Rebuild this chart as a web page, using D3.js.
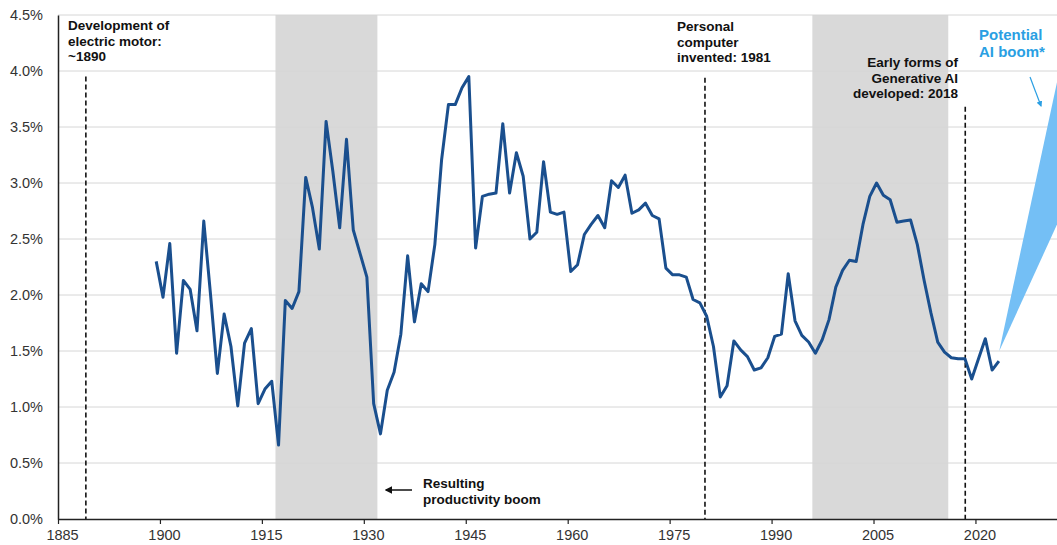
<!DOCTYPE html>
<html>
<head>
<meta charset="utf-8">
<script src="https://cdn.jsdelivr.net/npm/d3@7"></script>
<style>
  html, body { margin: 0; padding: 0; background: #fff; }
  svg { display: block; font-family: "Liberation Sans", Arial, sans-serif; }
</style>
</head>
<body>
<div id="chart"></div>
<script>
// annual labour productivity growth (%)
const years = d3.range(1899, 2024);
const growth = [
  2.30, 1.98, 2.46, 1.48, 2.13, 2.05, 1.68, 2.66, 2.00, 1.30,
  1.83, 1.54, 1.01, 1.57, 1.70, 1.03, 1.16, 1.23, 0.66, 1.95,
  1.88, 2.03, 3.05, 2.78, 2.41, 3.55, 3.10, 2.60, 3.39, 2.58,
  2.37, 2.16, 1.03, 0.76, 1.15, 1.31, 1.65, 2.35, 1.76, 2.10,
  2.03, 2.45, 3.21, 3.70, 3.70, 3.85, 3.95, 2.42, 2.88, 2.90,
  2.91, 3.53, 2.91, 3.27, 3.06, 2.50, 2.56, 3.19, 2.74, 2.72,
  2.74, 2.21, 2.27, 2.54, 2.63, 2.71, 2.60, 3.02, 2.96, 3.07,
  2.73, 2.76, 2.82, 2.71, 2.68, 2.24, 2.18, 2.18, 2.16, 1.96,
  1.93, 1.81, 1.54, 1.09, 1.19, 1.59, 1.51, 1.45, 1.33, 1.35,
  1.44, 1.63, 1.65, 2.19, 1.77, 1.64, 1.58, 1.48, 1.60, 1.78,
  2.07, 2.22, 2.31, 2.30, 2.63, 2.88, 3.00, 2.89, 2.85, 2.65,
  2.66, 2.67, 2.45, 2.13, 1.84, 1.58, 1.49, 1.44, 1.43, 1.43,
  1.25, 1.43, 1.61, 1.33, 1.41
];

const xTicks = [1885, 1900, 1915, 1930, 1945, 1960, 1975, 1990, 2005, 2020];
const yTicks = [0, 0.5, 1, 1.5, 2, 2.5, 3, 3.5, 4, 4.5];

// shaded productivity booms
const bandStarts = [1917, 1996];
const bandEnds = [1932, 2016];

// dashed event markers (position in years, top of line in %)
const eventYears = [1889.1, 1980.2, 2018.5];
const eventTops = [3.95, 3.94, 3.68];

// potential AI boom cone
const coneYears = [2023.5, 2032];
const coneLow = [1.5, 2.63];
const coneHigh = [1.5, 3.9];

const width = 1057;
const height = 545;
const marginTop = 15;
const marginRight = 0;
const marginBottom = 26;
const marginLeft = 58;

const x = d3.scaleLinear()
    .domain([1885, 2032])
    .range([marginLeft, width - marginRight]);

const y = d3.scaleLinear()
    .domain([0, 4.5])
    .range([height - marginBottom, marginTop]);

const midYear = 0.45; // annual points sit mid-year

const svg = d3.select("#chart").append("svg")
    .attr("width", width)
    .attr("height", height)
    .attr("viewBox", [0, 0, width, height]);

// shaded bands
svg.append("g")
  .selectAll("rect")
  .data(bandStarts)
  .join("rect")
    .attr("x", d => x(d))
    .attr("width", (d, i) => x(bandEnds[i]) - x(d))
    .attr("y", y(4.5))
    .attr("height", y(0) - y(4.5))
    .attr("fill", "#d9d9d9");

// gridlines
svg.append("g")
  .selectAll("line")
  .data(yTicks.filter(d => d > 0))
  .join("line")
    .attr("x1", marginLeft)
    .attr("x2", width - marginRight)
    .attr("y1", d => y(d))
    .attr("y2", d => y(d))
    .attr("stroke", "#d6d6d6")
    .attr("stroke-width", 1);

// event lines
svg.append("g")
  .selectAll("line")
  .data(eventYears)
  .join("line")
    .attr("x1", d => x(d))
    .attr("x2", d => x(d))
    .attr("y1", (d, i) => y(eventTops[i]))
    .attr("y2", y(0))
    .attr("stroke", "#111")
    .attr("stroke-width", 1.6)
    .attr("stroke-dasharray", "5,3");

// cone
const cone = coneYears.map((d, i) => ({year: d, lo: coneLow[i], hi: coneHigh[i]}));
svg.append("path")
    .datum(cone)
    .attr("fill", "#74bff5")
    .attr("d", d3.area()
        .x(d => x(d.year))
        .y0(d => y(d.lo))
        .y1(d => y(d.hi)));

// main line
const line = d3.line()
    .x(d => x(d + midYear))
    .y((d, i) => y(growth[i]));

svg.append("path")
    .datum(years)
    .attr("fill", "none")
    .attr("stroke", "#1a4f8e")
    .attr("stroke-width", 3)
    .attr("stroke-linejoin", "round")
    .attr("d", line);

// y axis
const yAxis = svg.append("g")
    .attr("transform", `translate(${marginLeft},0)`)
    .call(d3.axisLeft(y).tickValues(yTicks).tickSize(0).tickPadding(15)
        .tickFormat(d => d.toFixed(1) + "%"));
yAxis.select(".domain").attr("stroke", "#222").attr("stroke-width", 1.5);
yAxis.selectAll("text")
    .attr("font-family", "Liberation Sans, Arial, sans-serif")
    .attr("font-size", 14.5)
    .attr("fill", "#333");

// x axis
const xAxis = svg.append("g")
    .attr("transform", `translate(0,${height - marginBottom})`)
    .call(d3.axisBottom(x).tickValues(xTicks).tickSizeInner(5).tickSizeOuter(0)
        .tickPadding(6).tickFormat(d3.format("d")));
xAxis.select(".domain").attr("stroke", "#222").attr("stroke-width", 1.5);
xAxis.selectAll(".tick line").attr("stroke", "#222").attr("stroke-width", 1.2);
xAxis.selectAll("text")
    .attr("font-family", "Liberation Sans, Arial, sans-serif")
    .attr("font-size", 14.5)
    .attr("fill", "#333")
    .attr("dx", 4);

// annotations
function note(lines, tx, ty, anchor, color, size) {
  const t = svg.append("text")
      .attr("x", tx)
      .attr("y", ty)
      .attr("text-anchor", anchor)
      .attr("font-weight", "bold")
      .attr("font-size", size)
      .attr("fill", color);
  lines.forEach((s, i) => {
    t.append("tspan").attr("x", tx).attr("dy", i === 0 ? 0 : size * 1.15).text(s);
  });
}

note(["Development of", "electric motor:", "~1890"], 68, 30, "start", "#111", 13.5);
note(["Personal", "computer", "invented: 1981"], 677, 31, "start", "#111", 13.5);
note(["Early forms of", "Generative AI", "developed: 2018"], 958, 67, "end", "#111", 13.5);
note(["Potential", "AI boom*"], 979, 40, "start", "#2a9fe3", 15);
note(["Resulting", "productivity boom"], 423, 488, "start", "#111", 13.5);

const defs = svg.append("defs");
defs.append("marker")
    .attr("id", "headBlack")
    .attr("viewBox", "0 0 10 10")
    .attr("refX", 8).attr("refY", 5)
    .attr("markerWidth", 5).attr("markerHeight", 5)
    .attr("orient", "auto")
  .append("path").attr("d", "M0,0L10,5L0,10Z").attr("fill", "#111");
defs.append("marker")
    .attr("id", "headBlue")
    .attr("viewBox", "0 0 10 10")
    .attr("refX", 8).attr("refY", 5)
    .attr("markerWidth", 5).attr("markerHeight", 5)
    .attr("orient", "auto")
  .append("path").attr("d", "M0,0L10,5L0,10Z").attr("fill", "#2a9fe3");

svg.append("line")
    .attr("x1", 412).attr("y1", 490).attr("x2", 386).attr("y2", 490)
    .attr("stroke", "#111").attr("stroke-width", 1.5)
    .attr("marker-end", "url(#headBlack)");

svg.append("line")
    .attr("x1", 1030).attr("y1", 77).attr("x2", 1041).attr("y2", 106)
    .attr("stroke", "#2a9fe3").attr("stroke-width", 1.2)
    .attr("marker-end", "url(#headBlue)");
</script>
</body>
</html>
